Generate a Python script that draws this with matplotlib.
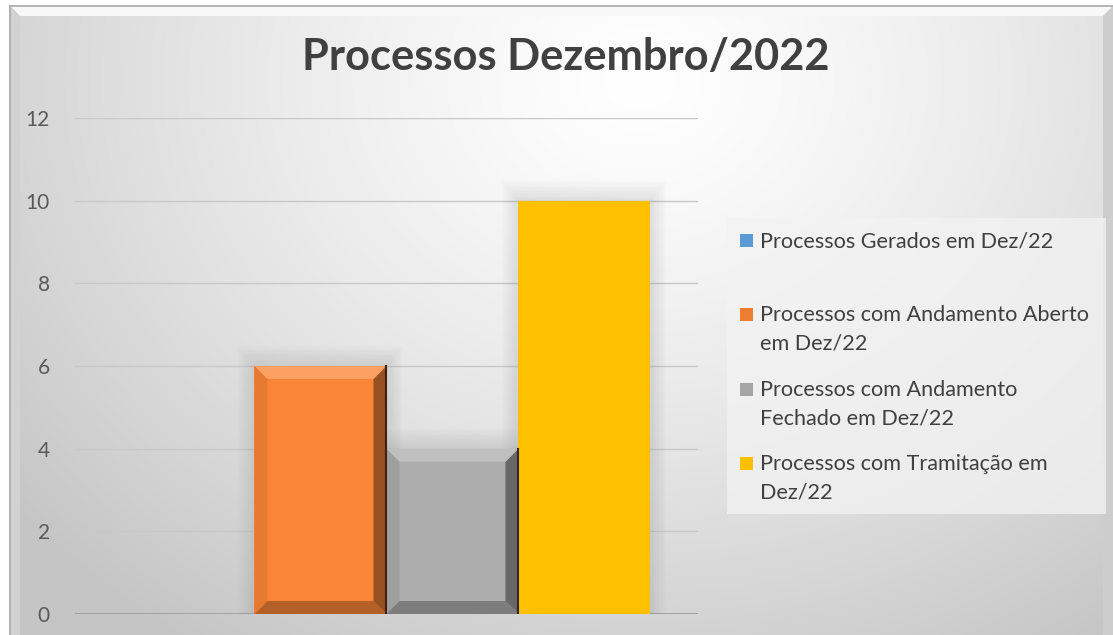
import numpy as np
import matplotlib
matplotlib.use("Agg")
import matplotlib.pyplot as plt
from matplotlib.patches import Rectangle, Polygon

plt.rcParams['font.family'] = ['Lato', 'DejaVu Sans']

# ---- data ----
title = "Processos Dezembro/2022"
series_labels = [
    "Processos Gerados em Dez/22",
    "Processos com Andamento Aberto\nem Dez/22",
    "Processos com Andamento\nFechado em Dez/22",
    "Processos com Tramitação em\nDez/22",
]
series_values = [0, 6, 4, 10]
bar_colors = ["#5B9BD5", "#FB8537", "#ADADAD", "#FFC000"]
legend_colors = ["#5B9BD5", "#ED7D31", "#A5A5A5", "#FFC000"]
bevel = [True, True, True, False]
yticks = [0, 2, 4, 6, 8, 10, 12]

W, H = 1113, 635
fig = plt.figure(figsize=(W / 100, H / 100), dpi=100)

# ---- background gradient ----
bg = fig.add_axes([0, 0, 1, 1], zorder=-10)
yy, xx = np.mgrid[0:H, 0:W]
d = np.sqrt(((xx - 640) / 620.0) ** 2 + ((yy - 80) / 520.0) ** 2)
v = 1.0 - 0.16 * np.clip(d, 0, 1.3) ** 1.3
img = np.dstack([v, v, v])
img[:6, :, :] = 1.0
img[:, :10, :] = 1.0
bg.imshow(img, extent=[0, W, H, 0], aspect='auto', interpolation='bilinear')
bg.set_xlim(0, W)
bg.set_ylim(H, 0)
bg.axis('off')
# frame bevel
bg.add_patch(Polygon([[10, 6], [W, 6], [W - 10, 16], [20, 16]], closed=True,
                     facecolor="#f8f8f8", edgecolor='none'))
bg.add_patch(Polygon([[10, 6], [20, 16], [20, H], [10, H]], closed=True,
                     facecolor="#d2d2d2", edgecolor='none'))
bg.add_patch(Polygon([[W - 10, 16], [W, 6], [W, H], [W - 10, H]], closed=True,
                     facecolor="#cdcdcd", edgecolor='none'))
bg.plot([10, W], [6, 6], color="#a8a8a8", lw=1.2)
bg.plot([10, 10], [6, H], color="#a8a8a8", lw=1.2)

# legend panel
bg.add_patch(Rectangle((727, 218), 379, 296, facecolor="#f3f3f3", alpha=0.75,
                       edgecolor='none'))

# ---- main axes ----
L, R, T, B = 75, 698, 118, 614
ax = fig.add_axes([L / W, 1 - B / H, (R - L) / W, (B - T) / H])
ax.patch.set_alpha(0)
ax.set_xlim(-0.5, 0.5)
ax.set_ylim(0, 12)
for s in ax.spines.values():
    s.set_visible(False)
ax.set_yticks(yticks)
ax.set_yticklabels([str(t) for t in yticks])
ax.tick_params(axis='y', length=0, pad=18, labelsize=15, labelcolor="#595959")
ax.set_xticks([])
ax.yaxis.grid(True, color="#c8c8c8", lw=1.0)
ax.axhline(0, color="#9a9a9a", lw=1.2, zorder=1)
ax.set_axisbelow(True)

n = len(series_values)
width = 132 / (R - L)
offsets = (np.arange(n) - (n - 1) / 2) * width
px_x = 1.0 / (R - L)
px_y = 12.0 / (B - T)

def shade(c, f):
    c = np.array(matplotlib.colors.to_rgb(c))
    if f >= 0:
        return tuple(c + (1 - c) * f)
    return tuple(c * (1 + f))

for i in range(n):
    val = series_values[i]
    x0 = offsets[i] - width / 2
    if val > 0:
        for k in range(8, 0, -1):
            ax.add_patch(Rectangle((x0 - k * px_x * 2, 0), width + 4 * k * px_x,
                                   val + k * px_y * 2.5, facecolor="#808080",
                                   alpha=0.025, edgecolor='none', zorder=1.5))
    ax.bar(offsets[i], val, width=width, color=bar_colors[i], zorder=2,
           label=series_labels[i], edgecolor='none')
    if bevel[i] and val > 0:
        bx, by = 13 * px_x, 13 * px_y
        x1 = x0 + width
        c = bar_colors[i]
        top = [[x0, val], [x1, val], [x1 - bx, val - by], [x0 + bx, val - by]]
        bot = [[x0, 0], [x1, 0], [x1 - bx, by], [x0 + bx, by]]
        lef = [[x0, 0], [x0, val], [x0 + bx, val - by], [x0 + bx, by]]
        rig = [[x1, 0], [x1, val], [x1 - bx, val - by], [x1 - bx, by]]
        ax.add_patch(Polygon(lef, facecolor=shade(c, -0.08), edgecolor='none', zorder=2.1))
        ax.add_patch(Polygon(rig, facecolor=shade(c, -0.40), edgecolor='none', zorder=2.1))
        ax.add_patch(Polygon(bot, facecolor=shade(c, -0.28), edgecolor='none', zorder=2.2))
        ax.add_patch(Polygon(top, facecolor=shade(c, 0.22), edgecolor='none', zorder=2.2))
        ax.plot([x1, x1], [0, val], color=shade(c, -0.75), lw=1.5, zorder=2.3)

# ---- title ----
fig.text(566 / W, 1 - 57 / H, title, ha='center', va='center', fontsize=31.2,
         fontweight='bold', color="#404040")

# ---- legend (manual) ----
entry_y = [240, 314, 389, 463]
for i in range(n):
    yc = entry_y[i]
    bg.add_patch(Rectangle((740, yc - 6.5), 13, 13, facecolor=legend_colors[i],
                           edgecolor='none'))
    bg.text(760, yc - 9, series_labels[i], ha='left', va='top', fontsize=15.6,
            color="#404040", linespacing=1.54,
            transform=bg.transData)

fig.savefig("out.png", dpi=100)
